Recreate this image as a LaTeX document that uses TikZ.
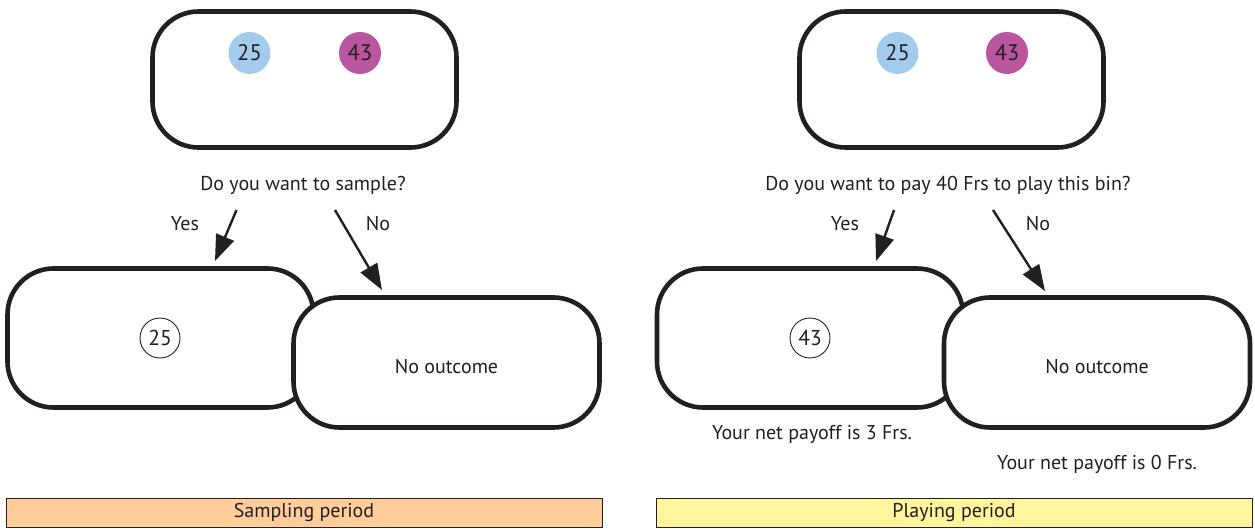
\documentclass[tikz,border=0pt]{standalone}
\usepackage{fontspec}
\setmainfont{PT Sans}
\usetikzlibrary{arrows.meta}
\definecolor{ink}{HTML}{231F20}
\definecolor{ballblue}{HTML}{A3CCEC}
\definecolor{ballmagenta}{HTML}{BA569F}
\definecolor{peach}{HTML}{FECD9A}
\definecolor{paleyellow}{HTML}{FFF59C}
\begin{document}
\begin{tikzpicture}[x=1pt,y=-1pt,
  txt/.style={text=ink, inner sep=0, font=\fontsize{20}{23}\selectfont},
  bin/.style={draw=ink, line width=4.6pt, rounded corners=46pt, fill=white,
    inner sep=0, txt},
  ball/.style={circle, minimum size=42pt, inner sep=0, txt, font=\fontsize{22.5}{25}\selectfont},
  drawn/.style={circle, draw=ink, line width=0.9pt, minimum size=40pt, inner sep=0, txt,
    font=\fontsize{21.5}{24}\selectfont},
  choice/.style={draw=ink, line width=2.4pt, -{Triangle[length=26pt,width=19pt]}},
  period/.style={draw=ink, line width=1pt, minimum width=596pt, minimum height=29pt,
    inner sep=0, txt}
]
\useasboundingbox (0,0) rectangle (1255,529);

% ---------- sampling period ----------
\node[bin, minimum width=304pt, minimum height=136pt] (binA) at (304.5,79.5) {};
\node[ball, fill=ballblue] (a25) at (249.5,53) {25};
\node[ball, fill=ballmagenta] (a43) at (360,53) {43};
\node[txt] (qA) at (303,185) {Do you want to sample?};
\node[txt] (yesA) at (185,224) {Yes};
\node[txt] (noA) at (378,224) {No};
\coordinate (yesAs) at (236.5,210);
\coordinate (yesAe) at (215,261);
\coordinate (noAs) at (335,210);
\coordinate (noAe) at (382,290);
\draw[choice] (yesAs) -- (yesAe);
\draw[choice] (noAs) -- (noAe);
\node[bin, minimum width=306pt, minimum height=139pt] (outA) at (160.5,338) {};
\node[drawn] (drawA) at (160,338) {25};
\node[bin, minimum width=306pt, minimum height=130pt] (noneA) at (446.5,362.5) {};
\node[txt] at (noneA.center) [yshift=-4.5pt] {No outcome};
\node[period, fill=peach] (perA) at (304,512.5) {Sampling period};

% ---------- playing period ----------
\node[bin, minimum width=304pt, minimum height=136pt] (binB) at (951.5,79.5) {};
\node[ball, fill=ballblue] (b25) at (897.5,53) {25};
\node[ball, fill=ballmagenta] (b43) at (1007,53) {43};
\node[txt] (qB) at (948,185) {Do you want to pay 40 Frs to play this bin?};
\node[txt] (yesB) at (845,224) {Yes};
\node[txt] (noB) at (1038,224) {No};
\coordinate (yesBs) at (894,210);
\coordinate (yesBe) at (876,261);
\coordinate (noBs) at (993,210);
\coordinate (noBe) at (1045,291);
\draw[choice] (yesBs) -- (yesBe);
\draw[choice] (noBs) -- (noBe);
\node[bin, minimum width=306pt, minimum height=139pt] (outB) at (810,338) {};
\node[drawn] (drawB) at (810,338) {43};
\node[bin, minimum width=306pt, minimum height=130pt] (noneB) at (1097,362.5) {};
\node[txt] at (noneB.center) [yshift=-4.5pt] {No outcome};
\node[txt] (payB1) at (812,434) {Your net payoff is 3 Frs.};
\node[txt] (payB0) at (1097,464) {Your net payoff is 0 Frs.};
\node[period, fill=paleyellow] (perB) at (954,512.5) {Playing period};
\end{tikzpicture}
\end{document}
